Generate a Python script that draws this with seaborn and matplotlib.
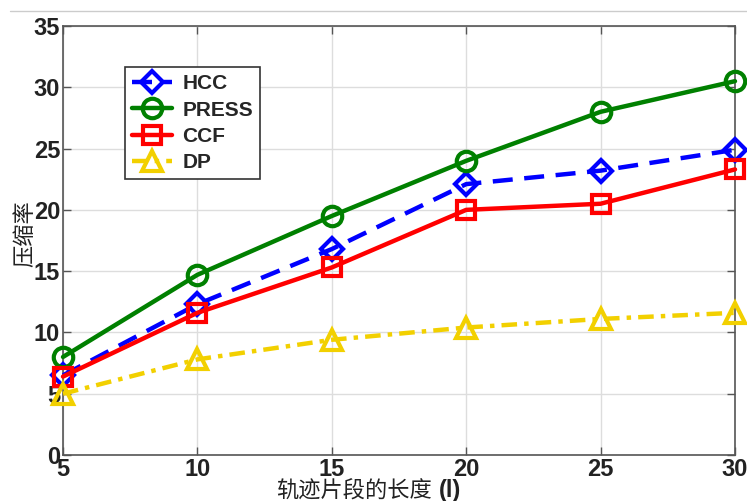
import matplotlib
matplotlib.use("Agg")
import matplotlib.pyplot as plt
import seaborn as sns
import pandas as pd
from matplotlib.lines import Line2D

lengths = [5, 10, 15, 20, 25, 30]
hcc = [6.5, 12.3, 16.8, 22.1, 23.2, 24.9]
press = [8.0, 14.7, 19.5, 24.0, 28.0, 30.5]
ccf = [6.4, 11.6, 15.3, 20.0, 20.5, 23.3]
dp = [5.0, 7.8, 9.4, 10.4, 11.1, 11.6]
names = ["HCC", "PRESS", "CCF", "DP"]
xticks = [5, 10, 15, 20, 25, 30]
yticks = [0, 5, 10, 15, 20, 25, 30, 35]
xlabel_cn = "轨迹片段的长度"
xlabel_var = "(l)"
ylabel = "压缩率"

sns.set_theme(style="whitegrid")
plt.rcParams['font.family'] = ['Liberation Sans', 'Noto Sans CJK SC', 'DejaVu Sans']

fig = plt.figure(figsize=(7.47, 5.01), dpi=100)
ax = fig.add_axes([63/747, 46/501, (735-63)/747, (455-26)/501])

series = [hcc, press, ccf, dp]
colors = ["#0000FF", "#008000", "#FF0000", "#F2D000"]
markers = ["D", "o", "s", "^"]
styles = [(0, (4.5, 2.6)), "-", "-", (0, (3.5, 1.6, 1.0, 1.6))]
msizes = [11, 14, 13, 15]

for name, vals, c, m, ls, ms in zip(names, series, colors, markers, styles, msizes):
    df = pd.DataFrame({"x": lengths, "y": vals})
    sns.lineplot(data=df, x="x", y="y", ax=ax, color=c, marker=m, linestyle=ls,
                 linewidth=3.2, markersize=ms,
                 markerfacecolor="none", markeredgecolor=c, markeredgewidth=3,
                 label=name, clip_on=False, zorder=3)

ax.set_xlim(5, 30)
ax.set_ylim(0, 35)
ax.set_xticks(xticks)
ax.set_yticks(yticks)
ax.set_xticklabels([str(v) for v in xticks], fontsize=17, fontweight="bold", color="#222222")
ax.set_yticklabels([str(v) for v in yticks], fontsize=17, fontweight="bold", color="#222222")
ax.set_xlabel("")
ax.set_ylabel(ylabel, fontsize=16, color="#222222",
              family=['Noto Sans CJK SC', 'DejaVu Sans'])
ax.yaxis.set_label_coords((36 - 63) / 672, (455 - 234) / 429)
ax.grid(True, color="#DDDDDD", linewidth=1.0, linestyle="-")
ax.set_facecolor("white")
for s in ax.spines.values():
    s.set_color("#555555")
    s.set_linewidth(1.2)
ax.tick_params(axis="both", which="both", direction="in", length=6, width=1,
               color="#555555", top=True, right=True, bottom=True, left=True, pad=2)

lab_y = 1 - 491/501
fig.text(432/747, lab_y, xlabel_cn, ha="right", va="center", fontsize=16, color="#222222",
         family=['Noto Sans CJK SC', 'DejaVu Sans'])
fig.text(439/747, lab_y, xlabel_var, ha="left", va="center", fontsize=17, color="#222222",
         family="Liberation Sans", fontweight="bold")

leg = ax.legend(loc="upper left", bbox_to_anchor=(62/672, (455-67)/429), frameon=True,
                fancybox=False, edgecolor="#333333", framealpha=1, borderaxespad=0,
                prop={"family": "Liberation Sans", "weight": "bold", "size": 15},
                handlelength=1.9, handletextpad=0.5, labelspacing=0.35, borderpad=0.35)
leg.get_frame().set_linewidth(1.2)

fig.add_artist(Line2D([10/747, 1.0], [1 - 11/501, 1 - 11/501], color="#CCCCCC", linewidth=1.0))

fig.savefig("out.png", dpi=100, facecolor="white")
